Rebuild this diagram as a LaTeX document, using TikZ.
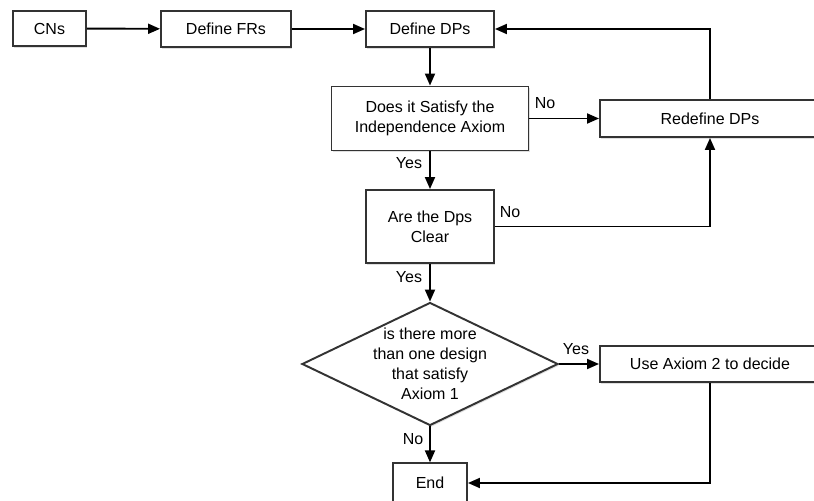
\documentclass[tikz,border=0pt]{standalone}
\usepackage{fontspec}
\setmainfont{Liberation Sans}
\usetikzlibrary{shapes.geometric}
\usetikzlibrary{arrows.meta}
\usetikzlibrary{shadows}

\begin{document}
\begin{tikzpicture}[x=0.75pt, y=-0.75pt, font=\fontsize{12}{15}\selectfont, line width=1.45pt,
    box/.style={draw=black!80, fill=white, align=center, inner sep=0pt,
        drop shadow={shadow xshift=1pt, shadow yshift=-1.2pt, opacity=0.25}},
    lbl/.style={inner sep=0pt},
    flow/.style={-{Triangle[length=9pt, width=7.5pt]}}]

    \path[use as bounding box, fill=white] (0,0) rectangle (814,500);
    \clip (0,0) rectangle (814,500);

    \node[box, minimum width=54.75pt, minimum height=26.25pt] (1) at (49.5,28.5) {CNs};
    \node[box, minimum width=97.5pt, minimum height=27pt] (2) at (226,29) {Define FRs};
    \node[box, minimum width=96pt, minimum height=27pt] (3) at (430,29) {Define DPs};

    \node[box, minimum width=147.75pt, minimum height=48pt] (4) at (430,118.5) {Does it Satisfy the\\Independence Axiom};
    \node[box, minimum width=165pt, minimum height=27.75pt] (5) at (710,118.5) {Redefine DPs};

    \node[box, minimum width=96pt, minimum height=54.75pt] (6) at (430,226.5) {Are the Dps\\Clear};

    \node[box, diamond, aspect=2, inner xsep=0pt, inner ysep=-12pt,
        minimum width=192pt, minimum height=92.25pt] (7) at (430,364) {is there more\\than one design\\that satisfy\\Axiom 1};
    \node[box, minimum width=165pt, minimum height=27pt] (8) at (710,364) {Use Axiom 2 to decide};

    \node[box, minimum width=55.5pt, minimum height=29.5pt] (9) at (430,483) {End};

    \node[lbl] (n1) at (545,103) {No};
    \node[lbl] (y1) at (409,163) {Yes};
    \node[lbl] (n2) at (510,212) {No};
    \node[lbl] (y2) at (409,277) {Yes};
    \node[lbl] (y3) at (576,349) {Yes};
    \node[lbl] (n3) at (413,439) {No};

    \draw[flow] (1) -- (2);
    \draw[flow] (2) -- (3);
    \draw[flow] (3) -- (4);
    \draw[flow] (4) -- (5);
    \draw[flow] (5) |- (3);
    \draw[flow] (4) -- (6);
    \draw[flow] (6) -| (5);
    \draw[flow] (6) -- (7);
    \draw[flow] (7) -- (8);
    \draw[flow] (7) -- (9);
    \draw[flow] (8) |- (9);

\end{tikzpicture}
\end{document}
